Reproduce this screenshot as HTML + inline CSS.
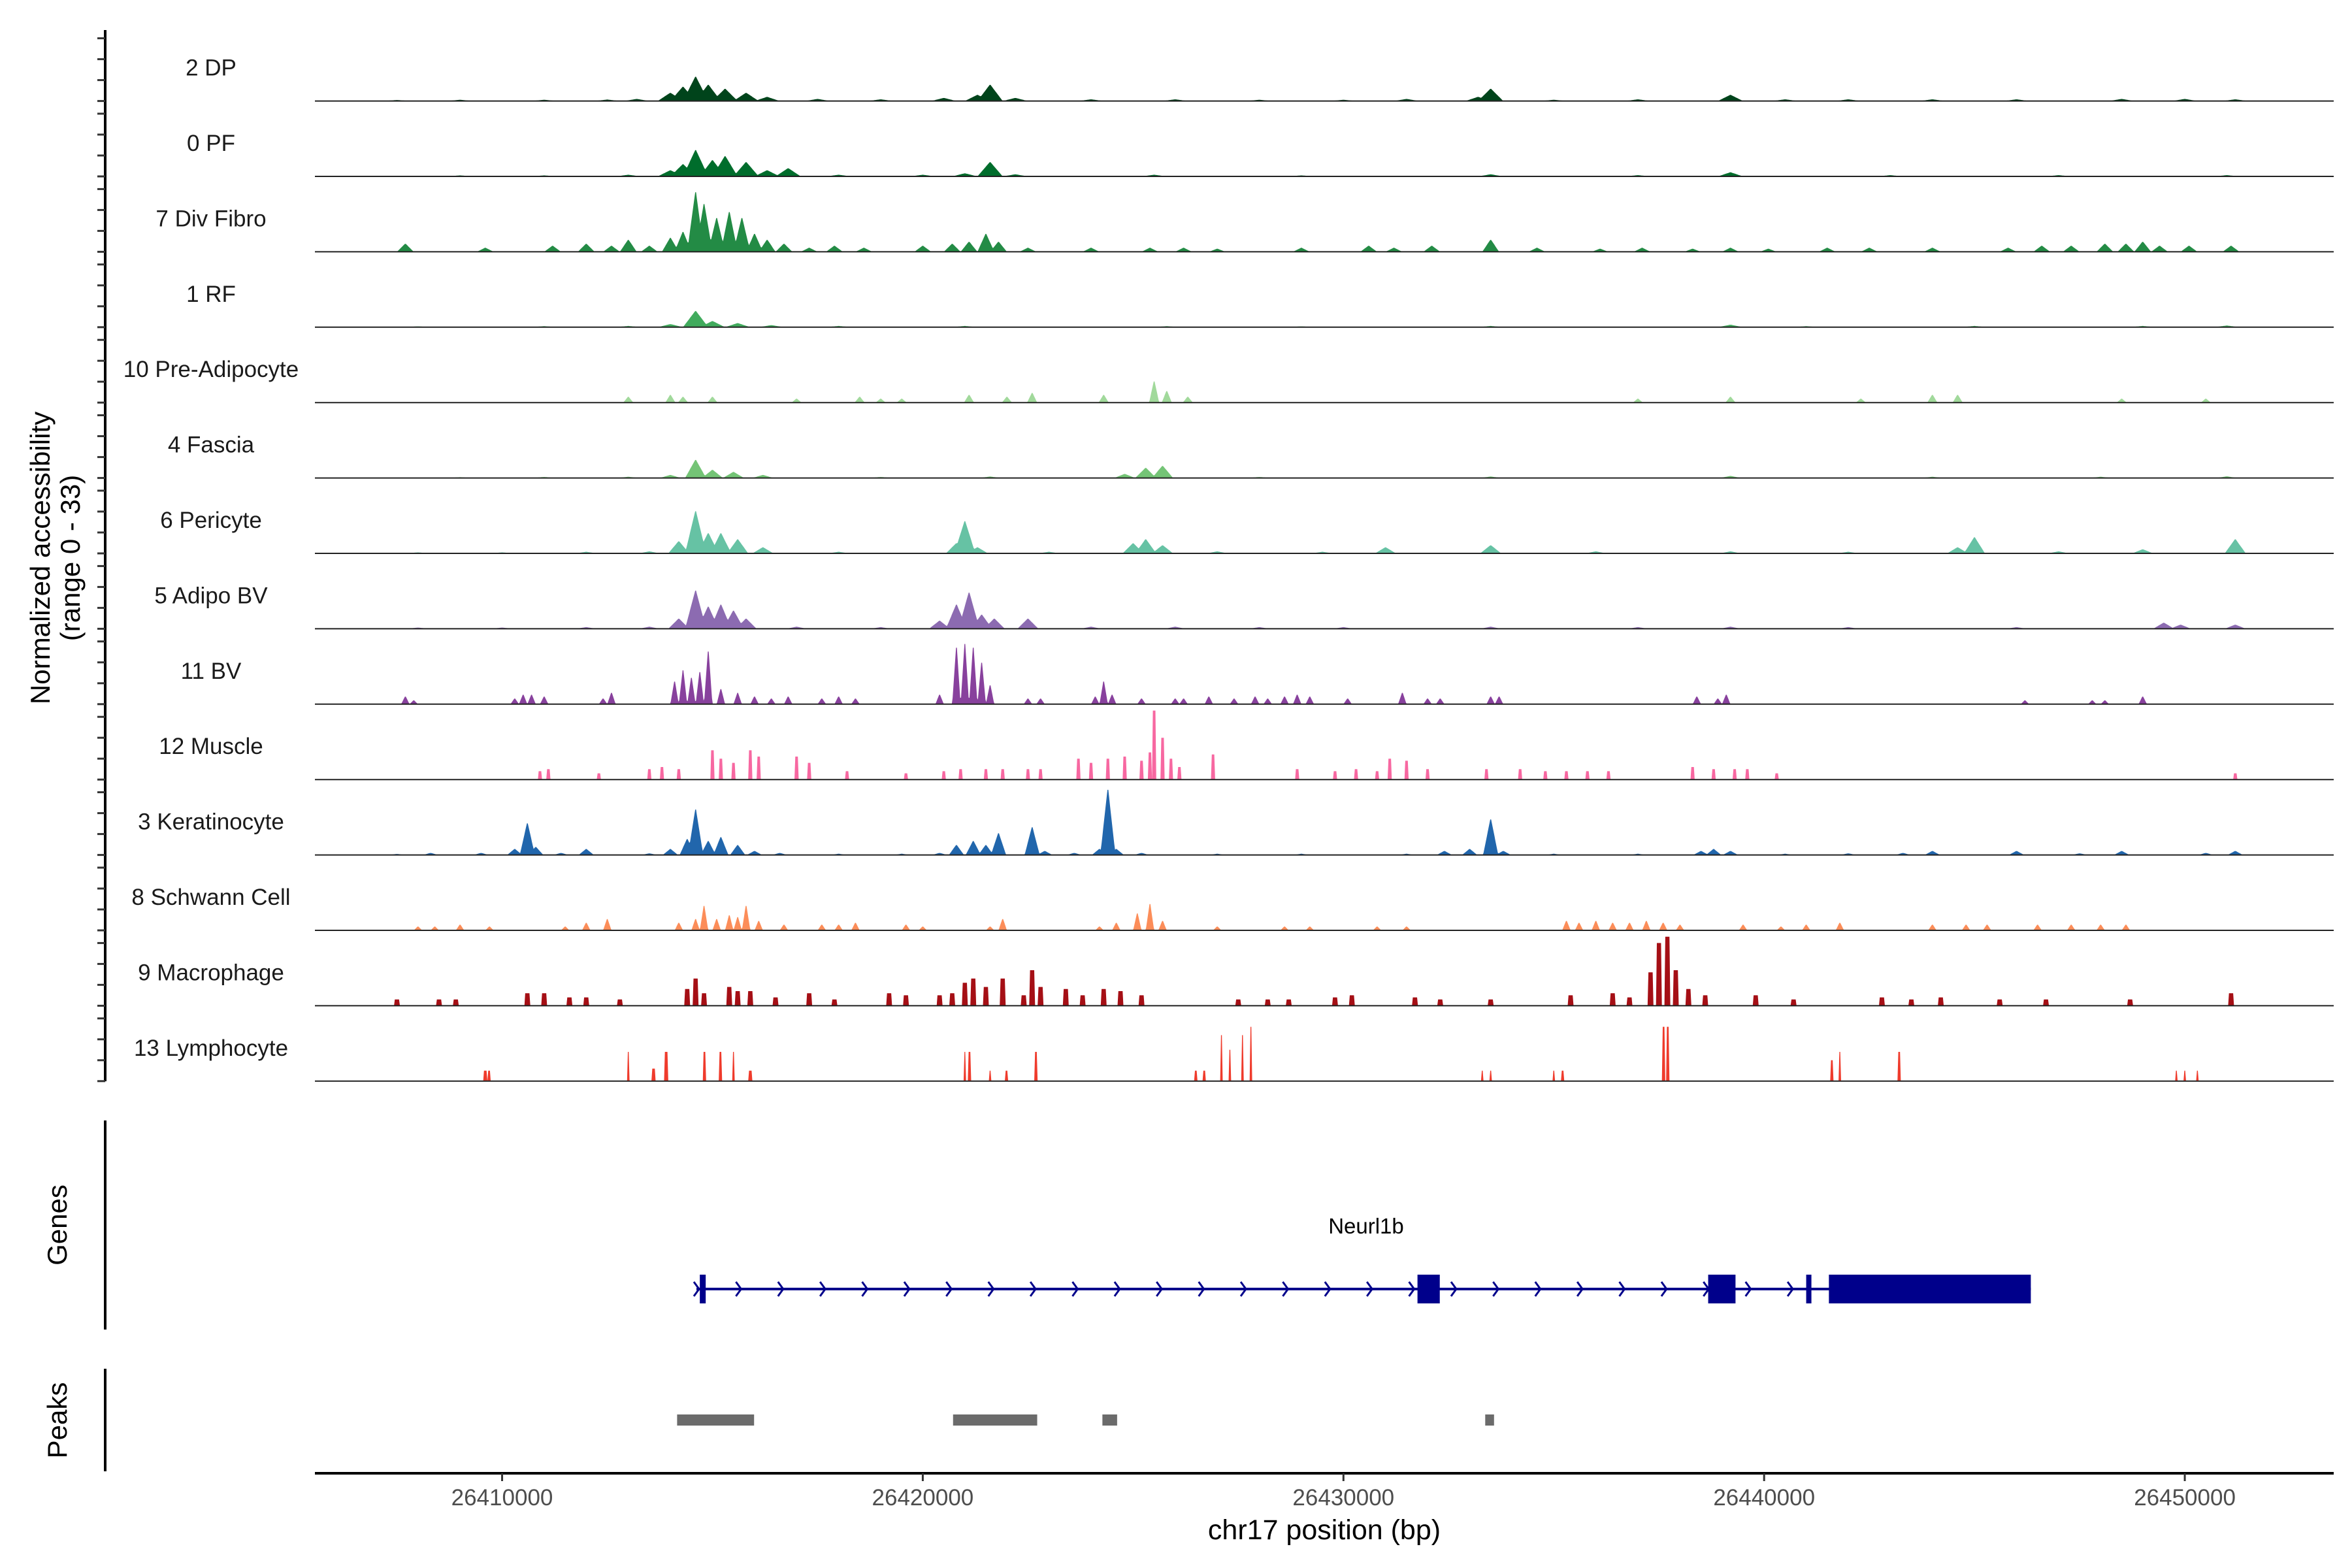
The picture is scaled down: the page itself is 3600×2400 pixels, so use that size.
<!DOCTYPE html>
<html><head><meta charset="utf-8">
<style>
html,body{margin:0;padding:0;background:#fff;}
svg{display:block;font-family:"Liberation Sans",Arial,sans-serif;}
</style></head>
<body>
<svg id="chart" width="3600" height="2400" viewBox="0 0 3600 2400" xmlns="http://www.w3.org/2000/svg">
<rect width="3600" height="2400" fill="#fff"/>
<g id="tracks"></g>
<line x1="161" y1="46" x2="161" y2="1655" stroke="#000" stroke-width="4"/>
<g id="yticks"></g>
<text transform="translate(76,854) rotate(-90)" text-anchor="middle" font-size="42" fill="#000">Normalized accessibility</text>
<text transform="translate(122,854) rotate(-90)" text-anchor="middle" font-size="42" fill="#000">(range 0 - 33)</text>
<line x1="161" y1="1715" x2="161" y2="2035" stroke="#000" stroke-width="4"/>
<text transform="translate(102,1875) rotate(-90)" text-anchor="middle" font-size="42" fill="#000">Genes</text>
<g id="gene"></g>
<line x1="161" y1="2095" x2="161" y2="2252" stroke="#000" stroke-width="4"/>
<text transform="translate(102,2174) rotate(-90)" text-anchor="middle" font-size="42" fill="#000">Peaks</text>
<g id="peaks"></g>
<line x1="482" y1="2255" x2="3572" y2="2255" stroke="#000" stroke-width="4"/>
<g id="xticks"></g>
<text x="2027" y="2356" text-anchor="middle" font-size="43" fill="#000">chr17 position (bp)</text>
</svg>
<script>
// ---- data (positions in kb offset from 26,400,000; heights in normalized units 0-33) ----
const trackNames = ["2 DP","0 PF","7 Div Fibro","1 RF","10 Pre-Adipocyte","4 Fascia","6 Pericyte","5 Adipo BV","11 BV","12 Muscle","3 Keratinocyte","8 Schwann Cell","9 Macrophage","13 Lymphocyte"];
const trackColors = ["#00441b","#006d2c","#238b45","#41ab5d","#a1d99b","#74c476","#66c2a4","#8c6bb1","#88419d","#f768a1","#2166ac","#fc8d59","#a50f15","#ef3b2c"];
const trackShape = [0.3,0.3,0.2,0.3,0.12,0.25,0.25,0.25,0.1,0.04,0.18,0.1,0.06,0.03];
const pos0 = [7.5,9,11,12.5,13.2,14.0,14.3,14.6,14.9,15.3,15.8,16.3,17.5,19,20.5,21.3,21.6,22.2,24,26,28,30,31.5,33.2,33.5,35,37,39.2,40.5,42,44,46,48.5,50,51.2];
const h0 = [0.5,0.6,0.6,0.7,1,4,7,12,8,6,4,2,1,0.8,1.5,3,8,1.5,0.8,0.8,0.6,0.6,1,2,6,0.6,0.8,3,0.8,0.8,0.8,0.8,1,1,0.8];
const pos1 = [9,11,13,14.0,14.3,14.6,15.0,15.3,15.8,16.3,16.8,18,20,21.0,21.6,22.2,25.5,29,33.5,37,39.2,43,47,51];
const h1 = [0.5,0.5,0.8,3,6,13,8,10,7,3,4,0.8,0.8,1.5,7,1,0.8,0.5,1,0.6,2,0.6,0.6,0.6];
const pos2 = [7.7,9.6,11.2,12.0,12.6,13.0,13.5,14.0,14.3,14.6,14.8,15.1,15.4,15.7,16.0,16.3,16.7,17.3,17.9,18.6,20.0,20.7,21.1,21.5,21.8,22.5,24.0,25.4,26.2,27.0,29.0,30.6,31.2,32.1,33.5,34.6,36.1,37.1,38.3,39.2,40.1,41.5,42.5,44.0,45.8,46.6,47.3,48.1,48.6,49.0,49.4,50.1,51.1];
const h2 = [4,2,3,4,3,6,3,7,10,30,24,17,20,17,9,6,4,2,3,2,3,4,5,9,5,2,2,2,2,1.5,2,3,2,3,6,2,1.5,2,1.5,2,1.5,2,2,2,2,3,3,4,4,5,3,3,3];
const pos3 = [8,11,13,14.0,14.6,15.0,15.6,16.4,18,21,25.8,29,33.5,39.2,41,45,49,51];
const h3 = [0.4,0.5,0.6,1.5,8,3,2,1,0.6,0.6,0.5,0.4,0.6,1.2,0.5,0.6,0.6,0.8];
const pos4 = [13.0,14.0,14.3,15.0,17.0,18.5,19.0,19.5,21.1,22.0,22.6,24.3,25.5,25.8,26.3,37.0,39.2,42.3,44.0,44.6,48.5,50.5];
const h4 = [3,4,3,3,2,3,2,2,4,3,5,4,11,6,3,2,3,2,4,4,2,2];
const pos5 = [9,11,13,14.0,14.6,15.0,15.5,16.2,19,21.6,24.8,25.3,25.7,28,33.5,39.2,44,48,51];
const h5 = [0.4,0.5,0.6,1.5,9,4,3,1.5,0.5,0.7,2,5,6,0.5,0.7,1,0.6,0.6,0.8];
const pos6 = [8,10,12,13.5,14.2,14.6,14.9,15.2,15.6,16.2,18,20.8,21.0,21.3,23,25.0,25.3,25.7,27,29.5,31.0,33.5,36,39.2,42,44.6,45.0,47,49.0,51.2];
const h6 = [0.5,0.5,0.8,1,6,21,10,10,7,3,0.8,5,16,3,0.8,5,7,4,1,0.8,3,4,1,1,0.8,3,8,1,2,7];
const pos7 = [8,10,12,13.5,14.2,14.6,14.9,15.2,15.5,15.8,17,19,20.4,20.8,21.1,21.4,21.7,22.5,24,26,28,30,33.5,37,39.2,42,46,49.5,49.9,51.2];
const h7 = [0.6,0.6,0.8,1,5,19,11,12,9,5,1,0.8,4,12,18,7,5,5,1,1,0.8,0.8,1,0.8,1,0.8,0.8,3,2,2];
const pos8 = [7.7,7.9,10.3,10.5,10.7,11.0,12.4,12.6,14.1,14.3,14.5,14.7,14.9,15.2,15.6,16.0,16.4,16.8,17.6,18.0,18.4,20.4,20.8,21.0,21.2,21.4,21.6,22.5,22.8,24.1,24.3,24.5,25.2,26.0,26.2,26.8,27.4,27.9,28.2,28.6,28.9,29.2,30.1,31.4,32.0,32.3,33.5,33.7,38.4,38.9,39.1,46.2,47.8,48.1,49.0];
const h8 = [4,2,3,5,5,4,3,6,12,18,14,17,28,8,6,4,3,4,3,4,3,5,30,32,30,22,10,3,3,4,12,5,3,3,3,4,3,4,3,4,5,4,3,6,3,3,4,4,4,3,5,2,2,2,4];
const pos9 = [10.9,11.1,12.3,13.5,13.8,14.2,15.0,15.2,15.5,15.9,16.1,17.0,17.3,18.2,19.6,20.5,20.9,21.5,21.9,22.5,22.8,23.7,24.0,24.4,24.8,25.2,25.4,25.5,25.7,25.9,26.1,26.9,28.9,29.8,30.3,30.8,31.1,31.5,32.0,33.4,34.2,34.8,35.3,35.8,36.3,38.3,38.8,39.3,39.6,40.3,51.2];
const h9 = [4,5,3,5,6,5,14,10,8,14,11,11,8,4,3,4,5,5,5,5,5,10,8,10,11,9,13,34,20,10,6,12,5,4,5,4,10,9,5,5,5,4,4,4,4,6,5,5,5,3,3];
const pos10 = [7.5,8.3,9.5,10.3,10.6,10.8,11.4,12.0,13.5,14.0,14.4,14.6,14.9,15.2,15.6,16.0,16.6,18,19.5,20.4,20.8,21.2,21.5,21.8,22.6,22.9,23.6,24.2,24.4,24.6,25.2,27,29,31.5,32.4,33.0,33.5,33.8,35,37,38.5,38.8,39.2,40.5,42,43.3,44.0,46.0,47.5,48.5,50.5,51.2];
const h10 = [0.5,1,1,3,16,4,1,3,0.8,3,8,23,7,9,5,2,1,0.6,0.6,1,5,7,5,11,14,2,1,3,33,3,1,0.6,0.6,0.6,2,3,18,2,0.6,0.6,2,3,2,0.6,0.8,1,2,2,0.8,2,1,2];
const pos11 = [8.0,8.4,9.0,9.7,11.5,12.0,12.5,14.2,14.6,14.8,15.1,15.4,15.6,15.8,16.1,16.7,17.6,18.0,18.4,19.6,20.0,21.6,21.9,24.2,24.6,25.1,25.4,25.7,27,28.6,29.2,30.8,31.5,35.3,35.6,36.0,36.4,36.8,37.2,37.6,38.0,39.5,40.4,41.0,41.8,44.0,44.8,45.3,46.5,47.3,48.0,48.6];
const h11 = [2,2,3,2,2,4,6,4,6,13,6,8,7,13,5,3,3,3,4,3,2,2,6,2,4,9,14,5,2,2,2,2,2,5,4,5,4,4,5,4,3,3,2,3,4,3,3,3,3,3,3,3];
const pos12 = [7.5,8.5,8.9,10.6,11.0,11.6,12.0,12.8,14.4,14.6,14.8,15.4,15.6,15.9,16.5,17.3,17.9,19.2,19.6,20.4,20.7,21.0,21.2,21.5,21.9,22.4,22.6,22.8,23.4,23.8,24.3,24.7,25.2,27.5,28.2,28.7,29.8,30.2,31.7,32.3,33.5,35.4,36.4,36.8,37.3,37.5,37.7,37.9,38.2,38.6,39.8,40.7,42.8,43.5,44.2,45.6,46.7,48.7,51.1];
const h12 = [3,3,3,6,6,4,4,3,8,13,6,9,7,7,4,6,3,6,5,5,6,11,13,9,13,5,17,9,8,5,8,7,5,3,3,3,4,5,4,3,3,5,6,4,16,30,40,17,8,5,5,3,4,3,4,3,3,3,6];
const pos13 = [9.6,9.7,13.0,13.6,13.9,14.8,15.2,15.5,15.9,21.0,21.1,21.6,22.0,22.7,26.5,26.7,27.1,27.3,27.6,27.8,33.3,33.5,35.0,35.2,37.6,37.7,41.6,41.8,43.2,49.8,50.0,50.3];
const h13 = [5,5,14,6,14,14,14,14,5,14,14,5,5,14,5,5,22,15,22,26,5,5,5,5,26,26,10,14,14,5,5,5];
const trackPos = [pos0,pos1,pos2,pos3,pos4,pos5,pos6,pos7,pos8,pos9,pos10,pos11,pos12,pos13];
const trackH = [h0,h1,h2,h3,h4,h5,h6,h7,h8,h9,h10,h11,h12,h13];
const xTicks = [10,20,30,40,50];
const xTickLabels = ["26410000","26420000","26430000","26440000","26450000"];
const yTickValues = [0,10,20,30];
const exonStart = [14.70,31.76,38.67,41.00,41.54];
const exonEnd = [14.84,32.29,39.32,41.12,46.34];
const geneStart = [14.62];
const geneEnd = [46.34];
const peakStart = [14.16,20.72,24.27,33.37];
const peakEnd = [15.99,22.72,24.62,33.58];

// ---- scales ----
const NS = "http://www.w3.org/2000/svg";
const X0 = 482, X1 = 3572, KB0 = 5.55, KB1 = 53.54;
function xs(kb){ return X0 + (kb-KB0)/(KB1-KB0)*(X1-X0); }
const trackTop = 40, trackH_px = 115.4;
function baseline(i){ return 154.6 + trackH_px*i; }
const unitPx = 3.2;
function ys(i,v){ return baseline(i) - v*unitPx; }
function mk(tag, attrs, parent){ const e=document.createElementNS(NS,tag); for(const k in attrs) e.setAttribute(k,attrs[k]); parent.appendChild(e); return e; }

const gT = document.getElementById('tracks');
const gY = document.getElementById('yticks');
const step = 0.02;
for(let i=0;i<trackNames.length;i++){
  const g = mk('g',{},gT);
  
  
  // build coverage profile
  const P = trackPos[i], H = trackH[i], w = trackShape[i];
  const n = Math.round((KB1-KB0)/step);
  const cov = new Array(n+1).fill(0);
  for(let j=0;j<P.length;j++){
    for(let k=0;k<=n;k++){
      const kb = KB0 + k*step; const d = Math.abs(kb-P[j]);
      let v;
      if(w<0.07){ v = d<=w ? H[j] : 0; }
      else { v = d<w ? H[j]*(1-d/w) : 0; }
      if(v>cov[k]) cov[k]=v;
    }
  }
  let d = 'M'+xs(KB0)+','+baseline(i);
  for(let k=0;k<=n;k++){ const kb=KB0+k*step; d+=' L'+xs(kb).toFixed(1)+','+ys(i,Math.min(cov[k],33)).toFixed(1); }
  d += ' L'+xs(KB1)+','+baseline(i)+' Z';
  const area = mk('path',{d:d,fill:trackColors[i],stroke:'none'},g);
  
  
  const bl = mk('line',{x1:X0,x2:X1,y1:baseline(i),y2:baseline(i),stroke:'#222','stroke-width':2},g);
  
  
  const lab = mk('text',{x:323,y:baseline(i)-39,'text-anchor':'middle','font-size':35,fill:'#1a1a1a'},g);
  lab.textContent = trackNames[i];
  
  
  for(const v of yTickValues){
    const t = mk('line',{x1:149,x2:161,y1:ys(i,v),y2:ys(i,v),stroke:'#333','stroke-width':3},gY);
    
    
  }
}

// gene
const gG = document.getElementById('gene');
const gy = 1973;
const gl = mk('line',{x1:xs(geneStart[0]),x2:xs(geneEnd[0]),y1:gy,y2:gy,stroke:'#00008b','stroke-width':4},gG);


for(let kb=geneStart[0]; kb<geneEnd[0]-0.3; kb+=1.0){
  const x = xs(kb);
  const c = mk('polyline',{points:(x-4)+','+(gy-11)+' '+(x+4)+','+gy+' '+(x-4)+','+(gy+11),fill:'none',stroke:'#00008b','stroke-width':3},gG);
  
  
}
for(let j=0;j<exonStart.length;j++){
  const x=xs(exonStart[j]), w=Math.max(8,xs(exonEnd[j])-x);
  const r = mk('rect',{x:x,y:gy-22,width:w,height:44,fill:'#00008b'},gG);
  
  
}
const gn = mk('text',{x:2091,y:1888,'text-anchor':'middle','font-size':33,fill:'#000'},gG);
gn.textContent='Neurl1b';



// peaks
const gP = document.getElementById('peaks');
for(let j=0;j<peakStart.length;j++){
  const x=xs(peakStart[j]);
  const r = mk('rect',{x:x,y:2165,width:xs(peakEnd[j])-x,height:17,fill:'#6b6b6b'},gP);
  
  
}

// x ticks
const gX = document.getElementById('xticks');
for(let j=0;j<xTicks.length;j++){
  const x=xs(xTicks[j]);
  const t = mk('line',{x1:x,x2:x,y1:2255,y2:2267,stroke:'#333','stroke-width':3},gX);
  
  
  const l = mk('text',{x:x,y:2304,'text-anchor':'middle','font-size':35,fill:'#4d4d4d'},gX);
  l.textContent = xTickLabels[j];
  
  
}
</script>
</body></html>
